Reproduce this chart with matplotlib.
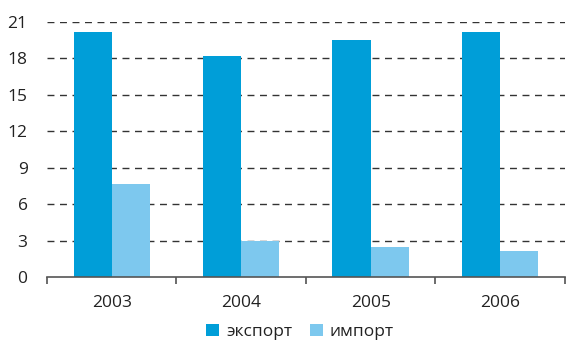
import numpy as np
import matplotlib.pyplot as plt
from matplotlib.ticker import FixedLocator

years = ['2003', '2004', '2005', '2006']
export = [20.2, 18.2, 19.5, 20.2]
imports = [7.65, 2.95, 2.45, 2.15]

plt.rcParams['font.family'] = ['Open Sans', 'DejaVu Sans']

fig = plt.figure(figsize=(5.66, 3.42), dpi=100)
ax = fig.add_axes([0.083, 0.19, 0.915, 0.746])

x = np.arange(len(years))
w = 0.295
ax.bar(x - w / 2, export, w, color='#009ED8', label='экспорт', zorder=2)
ax.bar(x + w / 2, imports, w, color='#7DC8EE', label='импорт', zorder=2)

ax.set_xlim(-0.5, len(years) - 0.5)
ax.set_ylim(0, 21)
ax.set_yticks(range(0, 22, 3))
ax.set_xticks(x)
ax.set_xticklabels(years)
ax.xaxis.set_minor_locator(FixedLocator(np.arange(-0.5, len(years), 1)))
ax.tick_params(axis='x', which='major', length=0, pad=13, labelsize=12.5,
               labelcolor='#222222')
ax.tick_params(axis='x', which='minor', length=5, width=1.1, color='#444444')
ax.tick_params(axis='y', length=0, pad=14, labelsize=12.5, labelcolor='#222222')

# dashed guides, skip the zero line (the axis itself is drawn there)
for v in range(3, 22, 3):
    ax.axhline(v, linestyle=(0, (5, 4)), color='#333333', linewidth=1, zorder=0)
for s in ['top', 'right', 'left']:
    ax.spines[s].set_visible(False)
ax.spines['bottom'].set_color('#555555')
ax.spines['bottom'].set_linewidth(1.2)
ax.spines['bottom'].set_zorder(3)

fig.legend(loc='center', bbox_to_anchor=(0.53, 0.03), ncol=2, frameon=False,
           fontsize=12.5, handlelength=0.75, handleheight=0.75, handletextpad=0.4,
           columnspacing=1.0, labelcolor='#222222')

fig.savefig('out.png', dpi=100)
